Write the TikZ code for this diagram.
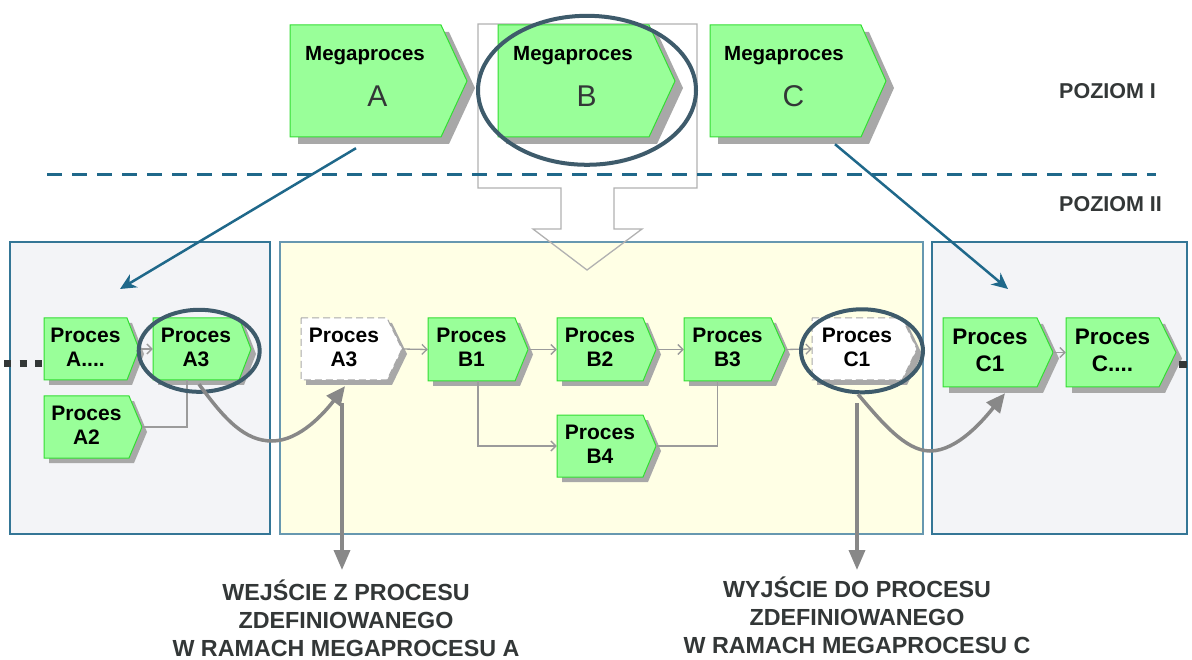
\documentclass[tikz,border=0pt]{standalone}
\usepackage{fontspec}
\setmainfont{Liberation Sans}
\usetikzlibrary{arrows.meta,shapes.geometric,calc}
\definecolor{procgreen}{RGB}{153,255,153}
\definecolor{procborder}{RGB}{51,221,51}
\definecolor{shadowc}{RGB}{168,168,168}
\definecolor{teal1}{RGB}{31,104,138}
\definecolor{boxborder}{RGB}{52,118,150}
\definecolor{boxgray}{RGB}{243,244,247}
\definecolor{boxyellow}{RGB}{255,255,229}
\definecolor{ellc}{RGB}{62,91,107}
\definecolor{darktext}{RGB}{51,55,55}
\definecolor{thinc}{RGB}{155,155,155}
\definecolor{thickc}{RGB}{136,136,136}
\def\shx{5}\def\shy{5}
\newcommand\mkproc[9]{%
  \fill[shadowc] ({#2+\shx},{#3+\shy}) -- ({#4-#6+\shx},{#3+\shy}) -- ({#4+\shx},{(#3+#5)/2+\shy}) -- ({#4-#6+\shx},{#5+\shy}) -- ({#2+\shx},{#5+\shy}) -- cycle;
  \path[#7] (#2,#3) -- ({#4-#6},#3) -- (#4,{(#3+#5)/2}) -- ({#4-#6},#5) -- (#2,#5) -- cycle;
  \node[inner sep=0pt, minimum width={#4-#2}, minimum height={#5-#3}] (#1) at ({(#2+#4)/2},{(#3+#5)/2}) {};
  \node[align=center, inner sep=0pt, #9] (#1-t) at ({(#2+#4-#6)/2},{(#3+#5)/2-2}) {#8};
}
\begin{document}
\begin{tikzpicture}[x={(1pt,0pt)}, y={(0pt,-1pt)},
  greenproc/.style={fill=procgreen, draw=procborder, line width=1pt},
  ghostproc/.style={fill=white, draw=shadowc, line width=1pt, dash pattern=on 7pt off 4pt},
  ptext/.style={font=\fontsize{21}{24}\selectfont\bfseries, text=black},
  bigptext/.style={font=\fontsize{22.5}{27}\selectfont\bfseries, text=black},
  megatext/.style={font=\fontsize{20.5}{24}\selectfont\bfseries, text=black, inner sep=0pt},
  lettertext/.style={font=\fontsize{30}{34}\selectfont, text=darktext, inner sep=0pt},
  leveltext/.style={font=\fontsize{21.5}{25}\selectfont\bfseries, text=darktext, inner sep=0pt},
  bottomtext/.style={font=\fontsize{23.3}{28}\selectfont\bfseries, text=darktext, inner sep=0pt, anchor=base},
  regionbox/.style={draw=boxborder, line width=1.2pt},
  thinline/.style={draw=thinc, line width=1.3pt},
  thinarrow/.style={thinline, -{Straight Barb[length=5pt,width=10pt]}},
  thickarrow/.style={draw=thickc, line width=3.5pt, -{Triangle[length=19pt,width=17pt]}},
  tealarrow/.style={draw=teal1, line width=2.5pt, -{Stealth[length=16pt,width=15pt,inset=5pt]}},
  hilite/.style={draw=ellc, line width=4pt, ellipse, inner sep=0pt}
]
\useasboundingbox (0,0) rectangle (1192,660);

% regions
\path[regionbox, fill=boxgray] (10,242) rectangle (270,534);
\path[regionbox, fill=boxyellow, draw=boxborder!75] (280,242) rectangle (923,534);
\path[regionbox, fill=boxgray] (932,242) rectangle (1187,534);

% hollow arrow from megaproces B
\draw[draw=shadowc!90, line width=1.3pt] (478,24) -- (697,24) -- (697,188) -- (614,188) -- (614,229) -- (642,229) -- (587,270) -- (533,229) -- (561,229) -- (561,188) -- (478,188) -- cycle;

% level separator
\draw[teal1, line width=3pt, dash pattern=on 15pt off 10pt] (47,175) -- (1156,175);

% megaprocesses
\def\shx{8}\def\shy{7}
\mkproc{mA}{290}{25}{467}{137}{26}{greenproc}{}{}
\mkproc{mB}{498}{25}{675}{137}{26}{greenproc}{}{}
\mkproc{mC}{710}{25}{886}{137}{25}{greenproc}{}{}
\node[megatext, anchor=base west] (mA-l1) at (305,61) {Megaproces};
\node[lettertext, anchor=base] (mA-l2) at (377.5,107) {A};
\node[megatext, anchor=base west] (mB-l1) at (513,61) {Megaproces};
\node[lettertext, anchor=base] (mB-l2) at (586.5,107) {B};
\node[megatext, anchor=base west] (mC-l1) at (724,61) {Megaproces};
\node[lettertext, anchor=base] (mC-l2) at (793.5,107) {C};

\node[leveltext, anchor=base west] (lev1) at (1059,99) {POZIOM I};
\node[leveltext, anchor=base west] (lev2) at (1059,212) {POZIOM II};

% processes
\def\shx{5}\def\shy{5}
\mkproc{pAd}{44}{318}{139}{380}{12}{greenproc}{Proces\\A....}{ptext}
\mkproc{pA3L}{153}{318}{251}{380}{12}{greenproc}{Proces\\A3}{ptext}
\mkproc{pA2}{44}{396}{142}{458}{13}{greenproc}{Proces\\A2}{ptext}
\mkproc{pA3w}{301}{318}{402}{380}{15}{ghostproc}{Proces\\A3}{ptext}
\mkproc{pB1}{428}{318}{528}{381}{13}{greenproc}{Proces\\B1}{ptext}
\mkproc{pB2}{557}{318}{656}{381}{13}{greenproc}{Proces\\B2}{ptext}
\mkproc{pB3}{684}{318}{785}{381}{14}{greenproc}{Proces\\B3}{ptext}
\mkproc{pB4}{557}{415}{656}{477}{13}{greenproc}{Proces\\B4}{ptext}
\mkproc{pC1w}{812}{318}{917}{380}{15}{ghostproc}{Proces\\C1}{ptext}
\def\shx{6}\def\shy{6}
\mkproc{pC1r}{943}{318}{1053}{387}{16}{greenproc}{Proces\\C1}{bigptext}
\mkproc{pCd}{1066}{318}{1176}{387}{17}{greenproc}{Proces\\C....}{bigptext}

% thin connectors
\draw[thinarrow] (pAd.east) -- (pA3L.west);
\draw[thinline] (pA2.east) -| ([xshift=-15pt]pA3L.south);
\draw[thinarrow] (pA3w.east) -- (pB1.west);
\draw[thinarrow] (pB1.east) -- (pB2.west);
\draw[thinarrow] (pB2.east) -- (pB3.west);
\draw[thinarrow] (pB3.east) -- (pC1w.west);
\draw[thinarrow] (pB1.south) |- (pB4.west);
\draw[thinline] (pB4.east) -| ([xshift=-17pt]pB3.south);
\draw[thinarrow] (pC1r.east) -- (pCd.west);

% continuation marks
\coordinate (contL) at (4,364);
\coordinate (contR) at (1187,364.5);
\draw[darktext, line width=7pt, dash pattern=on 7pt off 8.5pt] (contL) -- (pAd.west |- contL);
\draw[darktext, line width=7pt] ([xshift=3pt]pCd.east |- contR) -- (contR);

% teal level arrows
\coordinate (tipA) at (120,289);
\coordinate (tipC) at (1008,289);
\draw[tealarrow] ([shift={(-22.5,11)}]mA.south) -- (tipA);
\draw[tealarrow] ([shift={(37,7)}]mC.south) -- (tipC);

% highlight ellipses
\node[hilite, minimum width=218pt, minimum height=149pt] (eB) at (587,90.3) {};
\node[hilite, minimum width=121pt, minimum height=82pt] (eA3) at (199.2,350.8) {};
\node[hilite, minimum width=122pt, minimum height=83pt] (eC1) at (862,350.8) {};

% curved transfer arrows
\draw[thickarrow] ([shift={(-3,4)}]pA3L.south) .. controls (225,420) and (245,441) .. (272,441) .. controls (300,441) and (325,412) .. ([shift={(-6.5,6)}]pA3w.south);
\draw[thickarrow] ([xshift=-4pt]eC1.south) .. controls (880,420) and (905,451) .. (930,451) .. controls (958,451) and (985,418) .. ([shift={(7,6)}]pC1r.south);

% bottom labels
\node[bottomtext] (inL1) at (346,600) {WEJŚCIE Z PROCESU};
\node[bottomtext] (inL2) at (346,628) {ZDEFINIOWANEGO};
\node[bottomtext] (inL3) at (346,656) {W RAMACH MEGAPROCESU A};
\node[bottomtext] (outL1) at (857,597) {WYJŚCIE DO PROCESU};
\node[bottomtext] (outL2) at (857,625) {ZDEFINIOWANEGO};
\node[bottomtext] (outL3) at (857,653) {W RAMACH MEGAPROCESU C};

\coordinate (inStart) at (342,403);
\coordinate (outStart) at (857,403);
\draw[thickarrow, -{Triangle[length=20pt,width=16pt]}] (inStart) -- (342,570) coordinate (inEnd);
\draw[thickarrow, -{Triangle[length=20pt,width=16pt]}] (outStart) -- (857,570) coordinate (outEnd);
\end{tikzpicture}
\end{document}
